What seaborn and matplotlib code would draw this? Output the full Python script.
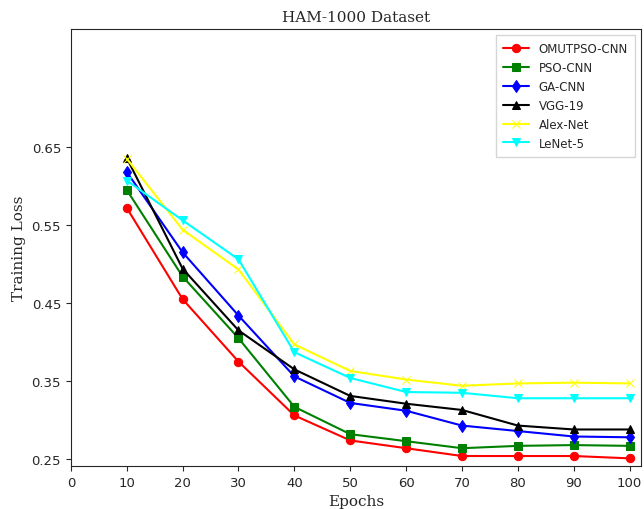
import numpy as np
import pandas as pd
import seaborn as sns
import matplotlib.pyplot as plt

# Data
epochs = [10, 20, 30, 40, 50, 60, 70, 80, 90, 100]
omutpso_cnn = [0.572, 0.455, 0.375, 0.306, 0.274, 0.264, 0.254, 0.254, 0.254, 0.251]
pso_cnn = [0.595, 0.484, 0.405, 0.317, 0.282, 0.273, 0.264, 0.267, 0.268, 0.267]
ga_cnn = [0.618, 0.515, 0.434, 0.356, 0.322, 0.312, 0.293, 0.286, 0.279, 0.278]
vgg_19 = [0.636, 0.494, 0.415, 0.365, 0.331, 0.321, 0.313, 0.293, 0.288, 0.288]
alex_net = [0.635, 0.544, 0.493, 0.397, 0.363, 0.352, 0.344, 0.347, 0.348, 0.347]
lenet_5 = [0.607, 0.556, 0.506, 0.387, 0.354, 0.336, 0.335, 0.328, 0.328, 0.328]

series = [
    ("OMUTPSO-CNN", omutpso_cnn, "red", "o"),
    ("PSO-CNN", pso_cnn, "green", "s"),
    ("GA-CNN", ga_cnn, "blue", "d"),
    ("VGG-19", vgg_19, "black", "^"),
    ("Alex-Net", alex_net, "yellow", "x"),
    ("LeNet-5", lenet_5, "cyan", "v"),
]

sns.set_style("ticks")
plt.rcParams['font.family'] = ['DejaVu Sans']

fig, ax = plt.subplots(figsize=(6.44, 5.1), dpi=100)
fig.subplots_adjust(left=0.110, right=0.995, bottom=0.084, top=0.941)

for name, vals, col, mk in series:
    df = pd.DataFrame({"Epochs": epochs, "Loss": vals})
    sns.lineplot(data=df, x="Epochs", y="Loss", ax=ax, color=col, marker=mk,
                 markersize=6, markeredgecolor=col, linewidth=1.5, label=name)

ax.set_xlim(0, 102)
ax.set_ylim(0.241, 0.801)
ax.set_xticks(np.arange(0, 101, 10))
ax.set_yticks([0.25, 0.35, 0.45, 0.55, 0.65])
ax.set_yticklabels(["0.25", "0.35", "0.45", "0.55", "0.65"])
ax.tick_params(labelsize=9.5)

ax.set_title("HAM-1000 Dataset", family="DejaVu Serif", fontsize=11)
ax.set_xlabel("Epochs", family="DejaVu Serif", fontsize=11)
ax.set_ylabel("Training Loss", family="DejaVu Serif", fontsize=11)

ax.legend(loc="upper right", fontsize=8.5, frameon=True, fancybox=False,
          edgecolor="#cccccc", borderpad=0.6, handlelength=2.2)

fig.savefig("out.png", dpi=100)
